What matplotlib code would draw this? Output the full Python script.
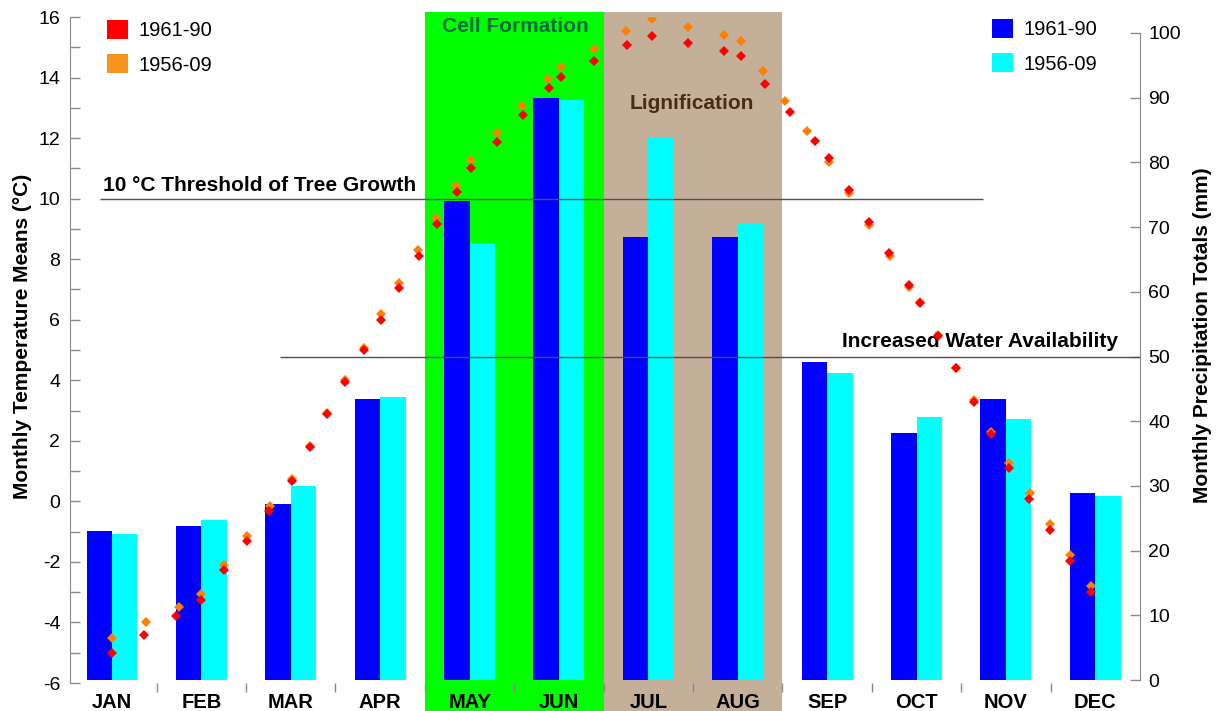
import numpy as np
import matplotlib.pyplot as plt
from matplotlib.patches import Patch, Rectangle
from matplotlib.transforms import blended_transform_factory

plt.rcParams.update(
    {
        "font.family": ["Liberation Sans", "DejaVu Sans"],
        "font.size": 14,
        "axes.unicode_minus": False,
    }
)

MONTHS = ["JAN", "FEB", "MAR", "APR", "MAY", "JUN",
          "JUL", "AUG", "SEP", "OCT", "NOV", "DEC"]

# monthly precipitation totals (mm)
PRECIP_6190 = [23.1, 23.8, 27.2, 43.5, 74.1, 89.9, 68.4, 68.4, 49.1, 38.2, 43.5, 28.9]
PRECIP_5609 = [22.6, 24.8, 30.0, 43.7, 67.5, 89.6, 83.7, 70.6, 47.4, 40.7, 40.4, 28.5]

# temperature means, positioned along the year in month units (0 = JAN)
TEMP_X_6190 = [0.00, 0.36, 0.72, 1.00, 1.25, 1.51, 1.76, 2.01, 2.21, 2.41,
               2.61, 2.82, 3.01, 3.21, 3.43, 3.64, 3.86, 4.02, 4.31, 4.60,
               4.89, 5.02, 5.39, 5.76, 6.04, 6.44, 6.85, 7.04, 7.31, 7.58,
               7.86, 8.02, 8.25, 8.47, 8.69, 8.92, 9.04, 9.24, 9.44, 9.64,
               9.83, 10.03, 10.26, 10.49, 10.72, 10.95]
TEMP_6190 = [-5.02, -4.42, -3.79, -3.26, -2.28, -1.30, -0.31, 0.67, 1.78, 2.87,
             3.93, 5.00, 5.99, 7.06, 8.10, 9.16, 10.22, 11.00, 11.88, 12.77,
             13.66, 14.03, 14.55, 15.07, 15.38, 15.13, 14.88, 14.71, 13.78, 12.85,
             11.92, 11.33, 10.28, 9.22, 8.19, 7.15, 6.54, 5.47, 4.39, 3.29,
             2.22, 1.11, 0.08, -0.95, -1.97, -3.01]

TEMP_X_5609 = [0.00, 0.38, 0.75, 1.00, 1.25, 1.51, 1.77, 2.01, 2.21, 2.41,
               2.61, 2.82, 3.01, 3.21, 3.42, 3.63, 3.85, 4.02, 4.31, 4.59,
               4.88, 5.02, 5.39, 5.75, 6.04, 6.44, 6.85, 7.04, 7.28, 7.53,
               7.77, 8.02, 8.25, 8.47, 8.70, 8.92, 9.04, 9.24, 9.44, 9.64,
               9.83, 10.03, 10.27, 10.49, 10.72, 10.95]
TEMP_5609 = [-4.53, -4.00, -3.48, -3.07, -2.11, -1.14, -0.16, 0.73, 1.83, 2.91,
             4.01, 5.07, 6.18, 7.22, 8.30, 9.35, 10.42, 11.28, 12.18, 13.06,
             13.96, 14.36, 14.95, 15.54, 15.94, 15.67, 15.40, 15.21, 14.23, 13.23,
             12.23, 11.21, 10.18, 9.13, 8.10, 7.07, 6.58, 5.49, 4.42, 3.34,
             2.29, 1.28, 0.26, -0.76, -1.78, -2.80]

GROWTH_THRESHOLD = 10.0  # degC
WATER_THRESHOLD = 50.0   # mm

C_RED = "#ff0000"
C_ORANGE_PT = "#ff8000"
C_ORANGE_LEG = "#f7941d"
C_BLUE = "#0000ff"
C_CYAN = "#00ffff"
C_GREEN = "#00ff00"
C_TAN = "#c4b098"
C_AXIS = "#8a8a8a"
C_RULE = "#505050"

W, H = 1223, 711
fig = plt.figure(figsize=(W / 100, H / 100), dpi=100)
ax_t = fig.add_axes([70 / W, 28 / H, 1070 / W, 666 / H])
ax_p = ax_t.twinx()
ax_t.set_zorder(2)
ax_p.set_zorder(1)
ax_t.patch.set_visible(False)

x = np.arange(len(MONTHS))
ax_t.set_xlim(-0.47, 11.5)

# growth phases, shaded down to the bottom edge of the figure
band_tf = blended_transform_factory(ax_p.transData, fig.transFigure)
for x0, x1, col in [(3.5, 5.5, C_GREEN), (5.5, 7.5, C_TAN)]:
    ax_p.add_patch(Rectangle((x0, 0), x1 - x0, 1 - 12 / H, transform=band_tf,
                             facecolor=col, edgecolor="none", clip_on=False, zorder=0))

bw = 0.285
ax_p.bar(x - bw, PRECIP_6190, width=bw, align="edge", color=C_BLUE, zorder=2)
ax_p.bar(x, PRECIP_5609, width=bw, align="edge", color=C_CYAN, zorder=2)
ax_p.hlines(WATER_THRESHOLD, 1.88, 11.5, color=C_RULE, lw=1, zorder=3)
ax_p.text(11.25, WATER_THRESHOLD + 0.9, "Increased Water Availability",
          ha="right", va="bottom", fontsize=15, fontweight="bold", zorder=4)

ax_t.hlines(GROWTH_THRESHOLD, -0.13, 9.74, color=C_RULE, lw=1, zorder=1)
ax_t.text(-0.10, GROWTH_THRESHOLD + 0.12, "10 °C Threshold of Tree Growth",
          ha="left", va="bottom", fontsize=15, fontweight="bold", zorder=1)
ax_t.text(4.51, 15.67, "Cell Formation", ha="center", va="center",
          fontsize=15, fontweight="bold", color="#006b3a", zorder=1)
ax_t.text(6.49, 13.13, "Lignification", ha="center", va="center",
          fontsize=15, fontweight="bold", color="#4a2c12", zorder=1)

ax_t.plot(TEMP_X_5609, TEMP_5609, "D", color=C_ORANGE_PT, ms=5.5, mew=0, zorder=5)
ax_t.plot(TEMP_X_6190, TEMP_6190, "D", color=C_RED, ms=5.5, mew=0, zorder=6)

# left axis: temperature
ax_t.set_ylim(-6, 16)
ax_t.set_yticks(np.arange(-6, 17, 2))
ax_t.set_yticks(np.arange(-5, 16, 2), minor=True)
ax_t.tick_params(axis="y", which="both", direction="in", length=7.2, width=1,
                 color=C_AXIS, labelsize=14, pad=7)
for side in ["top", "right", "bottom"]:
    ax_t.spines[side].set_visible(False)
ax_t.spines["left"].set_color(C_AXIS)

# x axis: separators between months, names centred
ax_t.set_xticks(np.arange(0.5, 11, 1))
ax_t.set_xticklabels([])
ax_t.set_xticks(x, minor=True)
ax_t.set_xticklabels(MONTHS, minor=True, fontsize=14.5, fontweight="bold")
ax_t.tick_params(axis="x", which="major", direction="out", length=6.5, width=1,
                 color=C_AXIS)
ax_t.tick_params(axis="x", which="minor", length=0, pad=7)

# right axis: precipitation
ax_p.set_ylim(-0.46, 102.47)
ax_p.set_yticks(np.arange(0, 101, 10))
ax_p.tick_params(axis="y", direction="in", length=7.2, width=1, color=C_AXIS,
                 labelsize=14, pad=6)
for side in ["top", "left", "bottom"]:
    ax_p.spines[side].set_visible(False)
ax_p.spines["right"].set_color(C_AXIS)
ax_p.spines["right"].set_bounds(0, 100)

fig.text(23 / W, 1 - 336 / H, "Monthly Temperature Means (°C)", rotation=90,
         ha="center", va="center", fontsize=15, fontweight="bold")
fig.text(1203 / W, 1 - 335 / H, "Monthly Precipitation Totals (mm)", rotation=90,
         ha="center", va="center", fontsize=15, fontweight="bold")

leg_kw = dict(frameon=False, fontsize=14.5, handlelength=1.05, handleheight=1.05,
              handletextpad=0.5, labelspacing=0.7, borderpad=0, borderaxespad=0,
              loc="upper left", bbox_transform=fig.transFigure)
leg_t = ax_t.legend(handles=[Patch(facecolor=C_RED, label="1961-90"),
                             Patch(facecolor=C_ORANGE_LEG, label="1956-09")],
                    bbox_to_anchor=(107 / W, 1 - 20 / H), **leg_kw)
ax_t.add_artist(leg_t)
ax_t.legend(handles=[Patch(facecolor=C_BLUE, label="1961-90"),
                     Patch(facecolor=C_CYAN, label="1956-09")],
            bbox_to_anchor=(992 / W, 1 - 19 / H), **leg_kw)

fig.savefig("out.png", dpi=100)
